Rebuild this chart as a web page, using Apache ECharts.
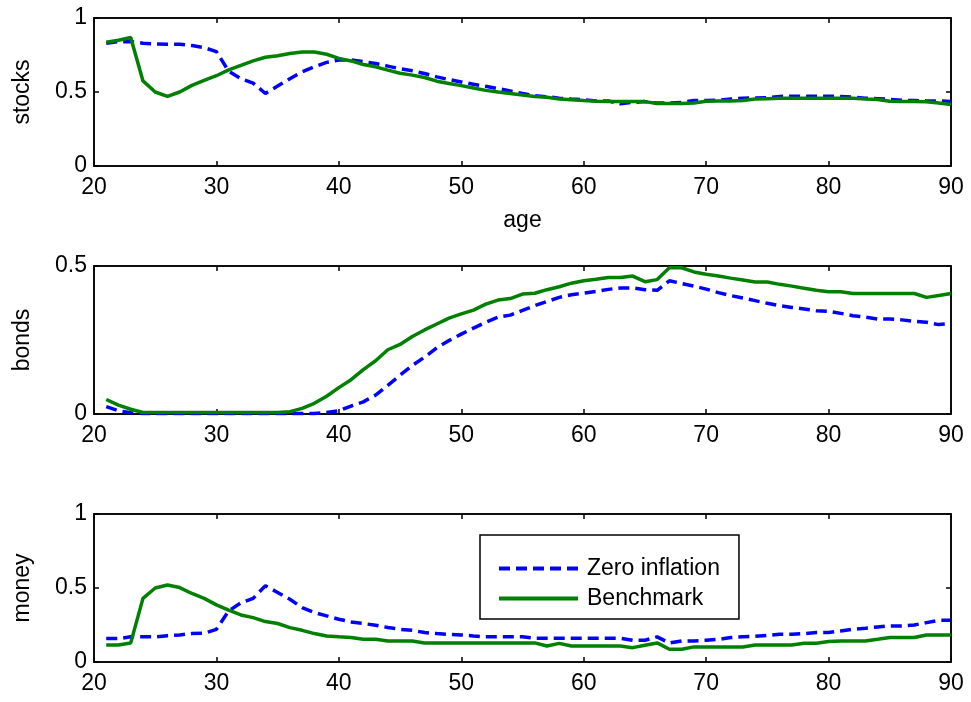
<!DOCTYPE html>
<html>
<head>
<meta charset="utf-8">
<script src="https://cdn.jsdelivr.net/npm/echarts@6/dist/echarts.min.js"></script>
<style>
html,body{margin:0;padding:0;background:#fff;}
#chart{width:971px;height:702px;}
</style>
</head>
<body>
<div id="chart"></div>
<script>
// ---- data ----
var ages = [21,22,23,24,25,26,27,28,29,30,31,32,33,34,35,36,37,38,39,40,
            41,42,43,44,45,46,47,48,49,50,51,52,53,54,55,56,57,58,59,60,
            61,62,63,64,65,66,67,68,69,70,71,72,73,74,75,76,77,78,79,80,
            81,82,83,84,85,86,87,88,89,90];

var stocksZero = [0.83,0.84,0.84,0.83,0.825,0.823,0.823,0.814,0.80,0.773,
                  0.64,0.59,0.56,0.49,0.54,0.59,0.636,0.67,0.70,0.716,
                  0.716,0.705,0.693,0.675,0.657,0.643,0.625,0.602,0.584,0.568,
                  0.552,0.539,0.523,0.507,0.49,0.475,0.468,0.458,0.452,0.447,
                  0.44,0.44,0.42,0.43,0.435,0.425,0.425,0.43,0.442,0.443,
                  0.445,0.452,0.458,0.46,0.462,0.47,0.472,0.472,0.472,0.472,
                  0.47,0.465,0.458,0.455,0.45,0.444,0.442,0.44,0.44,0.435];
var stocksBench = [0.836,0.85,0.868,0.575,0.50,0.47,0.50,0.545,0.578,0.61,
                   0.65,0.68,0.71,0.735,0.745,0.76,0.77,0.77,0.755,0.727,
                   0.71,0.686,0.67,0.648,0.627,0.614,0.598,0.573,0.557,0.543,
                   0.527,0.511,0.50,0.49,0.48,0.47,0.465,0.452,0.447,0.442,
                   0.438,0.436,0.435,0.435,0.435,0.423,0.423,0.423,0.426,0.438,
                   0.44,0.44,0.442,0.452,0.455,0.457,0.457,0.457,0.457,0.457,
                   0.457,0.457,0.452,0.45,0.437,0.436,0.436,0.434,0.425,0.415];

var bondsZero = [0.025,0.011,0.004,0.002,0.002,0.002,0.002,0.002,0.002,0.002,
                 0.002,0.002,0.002,0.002,0.002,0.002,0.002,0.002,0.005,0.011,
                 0.027,0.041,0.064,0.097,0.131,0.164,0.192,0.224,0.248,0.27,
                 0.29,0.31,0.327,0.334,0.35,0.366,0.38,0.394,0.403,0.408,
                 0.414,0.421,0.426,0.426,0.42,0.418,0.45,0.441,0.432,0.422,
                 0.41,0.40,0.392,0.383,0.374,0.366,0.36,0.355,0.349,0.347,
                 0.34,0.332,0.327,0.321,0.321,0.318,0.313,0.31,0.302,0.306];
var bondsBench = [0.049,0.03,0.016,0.005,0.005,0.005,0.005,0.005,0.005,0.005,
                  0.005,0.005,0.005,0.005,0.005,0.008,0.019,0.036,0.06,0.089,
                  0.116,0.15,0.18,0.217,0.235,0.262,0.284,0.304,0.324,0.338,
                  0.351,0.371,0.385,0.39,0.405,0.408,0.42,0.43,0.442,0.45,
                  0.455,0.461,0.461,0.466,0.447,0.454,0.494,0.494,0.48,0.472,
                  0.466,0.459,0.453,0.446,0.446,0.438,0.432,0.425,0.418,0.413,
                  0.413,0.407,0.407,0.407,0.407,0.407,0.407,0.394,0.40,0.407];

var moneyZero = [0.158,0.158,0.17,0.17,0.17,0.178,0.183,0.192,0.194,0.221,
                 0.345,0.40,0.43,0.515,0.47,0.424,0.368,0.334,0.312,0.289,
                 0.271,0.26,0.248,0.233,0.221,0.214,0.199,0.192,0.187,0.183,
                 0.176,0.17,0.17,0.17,0.17,0.16,0.16,0.16,0.16,0.16,
                 0.16,0.16,0.16,0.147,0.147,0.17,0.129,0.142,0.142,0.147,
                 0.153,0.165,0.17,0.174,0.18,0.187,0.187,0.192,0.199,0.199,
                 0.21,0.221,0.228,0.237,0.244,0.244,0.25,0.266,0.282,0.282];
var moneyBench = [0.115,0.115,0.129,0.43,0.50,0.52,0.503,0.463,0.43,0.386,
                  0.35,0.318,0.30,0.273,0.26,0.232,0.214,0.192,0.176,0.17,
                  0.165,0.153,0.153,0.142,0.142,0.142,0.129,0.129,0.129,0.129,
                  0.129,0.129,0.129,0.129,0.129,0.129,0.108,0.126,0.108,0.108,
                  0.108,0.108,0.108,0.097,0.113,0.129,0.086,0.086,0.102,0.102,
                  0.102,0.102,0.102,0.115,0.115,0.115,0.115,0.126,0.126,0.138,
                  0.142,0.142,0.142,0.153,0.165,0.165,0.165,0.183,0.183,0.183];

var panelNames = ['stocks','bonds','money'];
var panelMax = [1, 0.5, 1];
var xTicks = [20,30,40,50,60,70,80,90];
var seriesNames = ['Zero inflation','Benchmark'];

// ---- chart ----
var FONT = '"Liberation Sans", Arial, sans-serif';
var FS = 23;
var tops = [18, 266, 514];
var grids = [], xAxes = [], yAxes = [], series = [];
var blueData = [stocksZero, bondsZero, moneyZero];
var greenData = [stocksBench, bondsBench, moneyBench];

function pairs(y){ return ages.map(function(a,i){ return [a, y[i]]; }); }

for (var p = 0; p < 3; p++) {
  grids.push({left: 94, right: 20, top: tops[p], height: 148, show: true,
              borderColor: '#000', borderWidth: 1.5, backgroundColor: '#fff'});
  xAxes.push({type: 'value', gridIndex: p, position: 'bottom', min: xTicks[0], max: xTicks[xTicks.length-1], interval: 10,
    name: p === 0 ? 'age' : '', nameLocation: 'middle', nameGap: 43,
    nameTextStyle: {fontFamily: FONT, fontSize: FS, color: '#000'},
    axisLine: {show: true, onZero: false, lineStyle: {color: '#000', width: 1.5}},
    axisTick: {show: true, inside: true, length: 5, lineStyle: {color: '#000', width: 1.5}},
    axisLabel: {show: true, margin: 10, fontFamily: FONT, fontSize: FS, color: '#000'},
    splitLine: {show: false}});
  xAxes.push({type: 'value', gridIndex: p, position: 'top', min: xTicks[0], max: xTicks[xTicks.length-1], interval: 10,
    axisLine: {show: true, onZero: false, lineStyle: {color: '#000', width: 1.5}},
    axisTick: {show: true, inside: true, length: 5, lineStyle: {color: '#000', width: 1.5}},
    axisLabel: {show: false}, splitLine: {show: false}});
  yAxes.push({type: 'value', gridIndex: p, position: 'left', min: 0, max: panelMax[p], interval: 0.5,
    name: panelNames[p], nameLocation: 'middle', nameGap: 60, nameRotate: 90,
    nameTextStyle: {fontFamily: FONT, fontSize: FS, color: '#000'},
    axisLine: {show: true, onZero: false, lineStyle: {color: '#000', width: 1.5}},
    axisTick: {show: true, inside: true, length: 5, lineStyle: {color: '#000', width: 1.5}},
    axisLabel: {show: true, margin: 7, fontFamily: FONT, fontSize: FS, color: '#000'},
    splitLine: {show: false}});
  yAxes.push({type: 'value', gridIndex: p, position: 'right', min: 0, max: panelMax[p], interval: 0.5,
    axisLine: {show: true, onZero: false, lineStyle: {color: '#000', width: 1.5}},
    axisTick: {show: true, inside: true, length: 5, lineStyle: {color: '#000', width: 1.5}},
    axisLabel: {show: false}, splitLine: {show: false}});

  series.push({name: seriesNames[0], type: 'line', xAxisIndex: 2*p, yAxisIndex: 2*p,
    data: pairs(blueData[p]), symbol: 'none', showSymbol: false, smooth: false, animation: false,
    lineStyle: {color: '#0000ff', width: 3.5, type: [11, 6]}, itemStyle: {color: '#0000ff'}, z: 3});
  series.push({name: seriesNames[1], type: 'line', xAxisIndex: 2*p, yAxisIndex: 2*p,
    data: pairs(greenData[p]), symbol: 'none', showSymbol: false, smooth: false, animation: false,
    lineStyle: {color: '#008000', width: 3.5, type: 'solid'}, itemStyle: {color: '#008000'}, z: 4});
}

var chart = echarts.init(document.getElementById('chart'), null, {renderer: 'canvas'});
chart.setOption({
  animation: false,
  backgroundColor: '#fff',
  grid: grids,
  xAxis: xAxes,
  yAxis: yAxes,
  series: series,
  legend: {
    data: seriesNames, orient: 'vertical', left: 480, top: 535,
    backgroundColor: '#fff', borderColor: '#000', borderWidth: 1.5,
    padding: [22, 19, 9, 17], itemWidth: 79, itemHeight: 14, itemGap: 7,
    itemStyle: {opacity: 0},
    lineStyle: {width: 4},
    textStyle: {fontFamily: FONT, fontSize: FS, color: '#000', padding: [0,0,0,4]},
    selectedMode: false, z: 10
  }
});
</script>
</body>
</html>
